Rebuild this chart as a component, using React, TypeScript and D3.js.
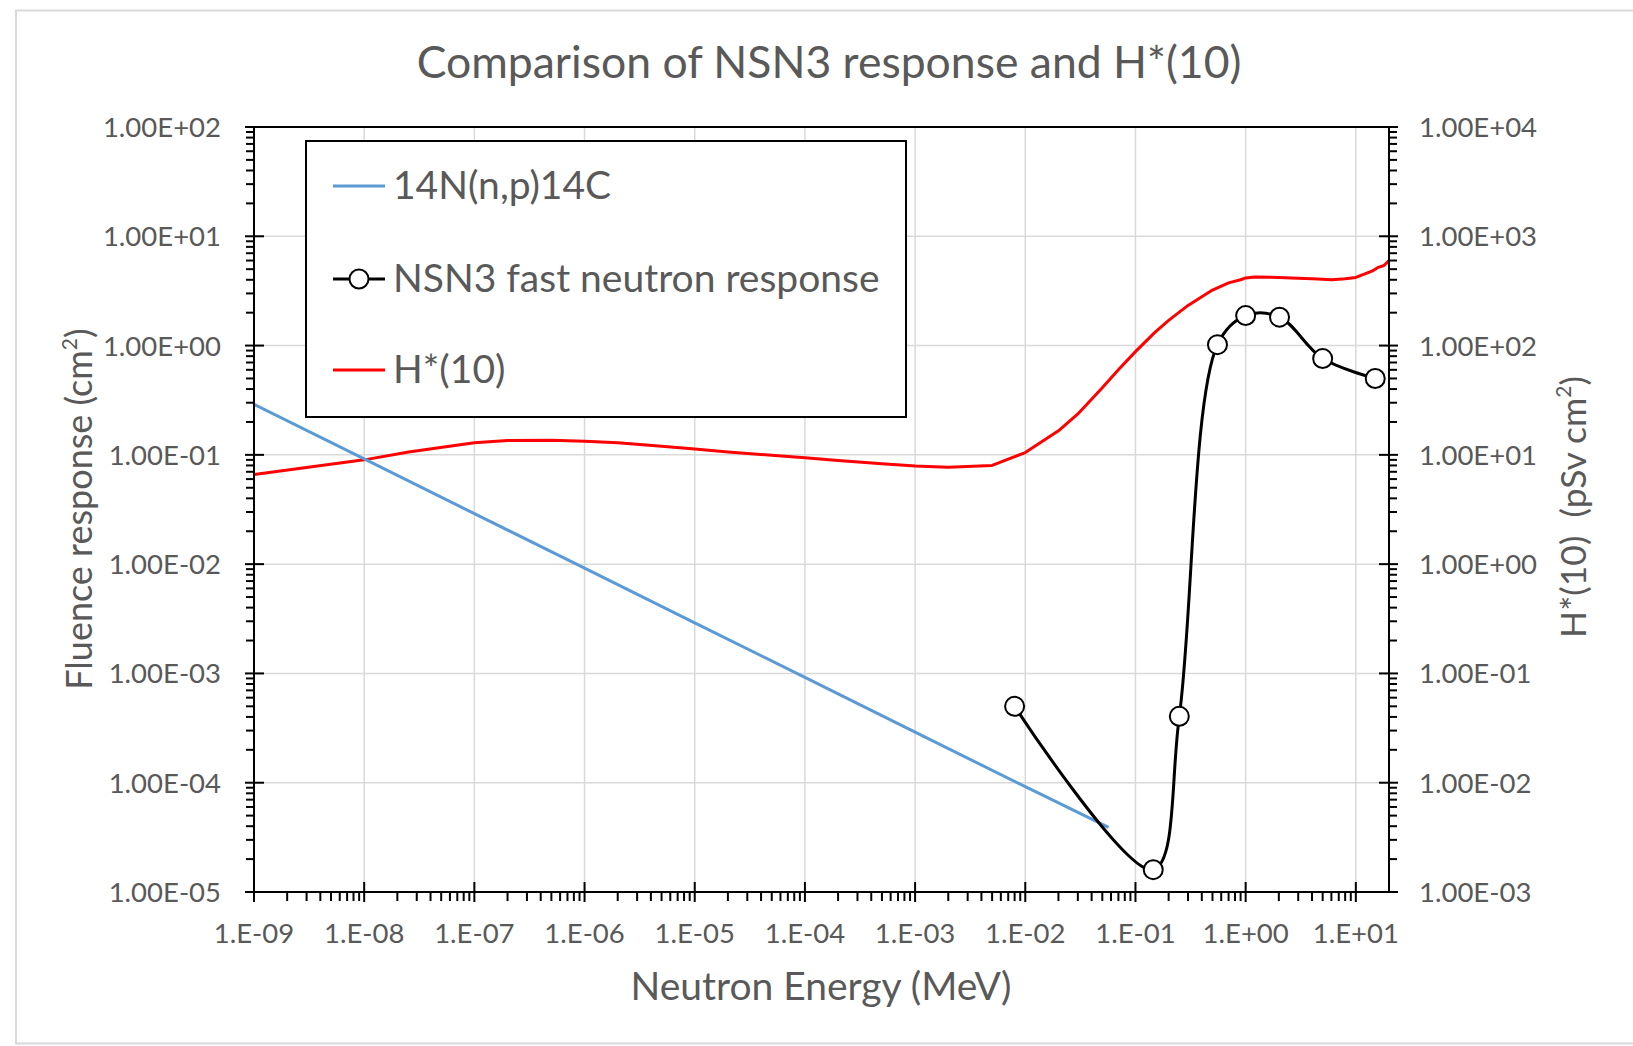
import React from 'react';
import * as d3 from 'd3';

// ---------- data ----------
const xTickValues = [1e-9, 1e-8, 1e-7, 1e-6, 1e-5, 1e-4, 1e-3, 1e-2, 1e-1, 1e0, 1e1];
const xTickLabels = ['1.E-09', '1.E-08', '1.E-07', '1.E-06', '1.E-05', '1.E-04', '1.E-03', '1.E-02', '1.E-01', '1.E+00', '1.E+01'];
const leftTickValues = [1e-5, 1e-4, 1e-3, 1e-2, 1e-1, 1e0, 1e1, 1e2];
const leftTickLabels = ['1.00E-05', '1.00E-04', '1.00E-03', '1.00E-02', '1.00E-01', '1.00E+00', '1.00E+01', '1.00E+02'];
const rightTickValues = [1e-3, 1e-2, 1e-1, 1e0, 1e1, 1e2, 1e3, 1e4];
const rightTickLabels = ['1.00E-03', '1.00E-02', '1.00E-01', '1.00E+00', '1.00E+01', '1.00E+02', '1.00E+03', '1.00E+04'];

// 14N(n,p)14C fluence response (cm^2), left axis
const npEnergy = [1e-9, 1e-8, 1e-7, 1e-6, 1e-5, 1e-4, 1e-3, 1e-2, 5.7e-2];
const npResponse = [0.29, 0.092, 0.029, 0.0092, 0.0029, 0.00092, 0.00029, 0.000092, 0.000039];

// NSN3 fast neutron response (cm^2), left axis
const nsnEnergy = [0.008, 0.145, 0.25, 0.555, 1.0, 2.03, 5.0, 15];
const nsnResponse = [5.0e-4, 1.6e-5, 4.05e-4, 1.02, 1.88, 1.82, 0.76, 0.5];

// H*(10) (pSv cm^2), right axis
const hEnergy = [1e-9, 1e-8, 2.53e-8, 1e-7, 2e-7, 5e-7, 1e-6, 2e-6, 5e-6, 1e-5, 2e-5, 5e-5, 1e-4, 2e-4, 5e-4, 1e-3, 2e-3, 5e-3, 1e-2, 2e-2, 3e-2, 5e-2, 7e-2, 1e-1, 1.5e-1, 2e-1, 3e-1, 5e-1, 7e-1, 9e-1, 1, 1.2, 2, 3, 4, 5, 6, 7, 8, 10, 14, 15, 16, 18, 20];
const hValue = [6.6, 9.0, 10.6, 12.9, 13.5, 13.6, 13.3, 12.9, 12.0, 11.3, 10.6, 9.9, 9.4, 8.9, 8.3, 7.9, 7.7, 8.0, 10.5, 16.6, 23.7, 41.1, 60.0, 88.0, 132, 170, 233, 322, 375, 400, 416, 425, 420, 412, 408, 405, 400, 405, 409, 420, 480, 500, 520, 540, 600];

const legendLabels = ['14N(n,p)14C', 'NSN3 fast neutron response', 'H*(10)'];
const seriesColors = ['#5B9BD5', '#000000', '#FF0000'];

// ---------- layout ----------
const W = 1633;
const H = 1046;
const L = 254, R = 1389, T = 127, B = 892;
const FONT = 'Lato, "Open Sans", sans-serif';
const TXT = '#595959';

export default function App() {
  const x = d3.scaleLog().domain([1e-9, 20]).range([L, R]);
  const yL = d3.scaleLog().domain([1e-5, 1e2]).range([B, T]);
  const yR = d3.scaleLog().domain([1e-3, 1e4]).range([B, T]);

  const minor = (lo: number, hi: number, domainMax: number) => {
    const out: number[] = [];
    for (let d = lo; d <= hi; d++) {
      for (let k = 2; k <= 9; k++) {
        const v = k * Math.pow(10, d);
        if (v < domainMax * 0.999) out.push(v);
      }
    }
    return out;
  };
  const xMinor = minor(-9, 1, 20);
  const yLMinor = minor(-5, 1, 1e2);
  const yRMinor = minor(-3, 3, 1e4);

  const straight = d3.line<[number, number]>().x(d => d[0]).y(d => d[1]);
  const smooth = d3.line<[number, number]>().x(d => d[0]).y(d => d[1]).curve(d3.curveCatmullRom.alpha(0.5));

  const npPts = npEnergy.map((e, i) => [x(e), yL(npResponse[i])] as [number, number]);
  const nsnPts = nsnEnergy.map((e, i) => [x(e), yL(nsnResponse[i])] as [number, number]);
  const hPts = hEnergy.map((e, i) => [x(e), yR(hValue[i])] as [number, number]);

  const legendX = 306, legendY = 141, legendW = 600, legendH = 276;
  const legendRows = [186, 279, 370];

  return (
    <div style={{ position: 'fixed', left: 0, top: 0, width: W, height: H, background: '#fff' }}>
      <svg width={W} height={H} style={{ display: 'block' }} fontFamily={FONT}>
        <rect x={0} y={0} width={W} height={H} fill="#fff" />
        <rect x={16} y={10.5} width={1700} height={1033} fill="none" stroke="#D9D9D9" strokeWidth={2} />

        {/* title */}
        <text x={829} y={78} textAnchor="middle" fontSize={44.5} fill={TXT}>Comparison of NSN3 response and H*(10)</text>

        {/* gridlines */}
        <g stroke="#D9D9D9" strokeWidth={1.5}>
          {xTickValues.slice(1).map((v, i) => (
            <line key={'gx' + i} x1={x(v)} x2={x(v)} y1={T} y2={B} />
          ))}
          {leftTickValues.slice(1, -1).map((v, i) => (
            <line key={'gy' + i} x1={L} x2={R} y1={yL(v)} y2={yL(v)} />
          ))}
        </g>

        {/* series */}
        <path d={straight(hPts) || ''} fill="none" stroke={seriesColors[2]} strokeWidth={3} strokeLinejoin="round" />
        <path d={straight(npPts) || ''} fill="none" stroke={seriesColors[0]} strokeWidth={3} strokeLinejoin="round" />
        <path d={smooth(nsnPts) || ''} fill="none" stroke={seriesColors[1]} strokeWidth={3} strokeLinejoin="round" />
        {nsnPts.map((p, i) => (
          <circle key={'m' + i} cx={p[0]} cy={p[1]} r={9.5} fill="#fff" stroke="#000" strokeWidth={2} />
        ))}

        {/* axes */}
        <g stroke="#000" strokeWidth={2}>
          <line x1={L} x2={R} y1={T} y2={T} />
          <line x1={L} x2={R} y1={B} y2={B} />
          <line x1={L} x2={L} y1={T} y2={B} />
          <line x1={R} x2={R} y1={T} y2={B} />
          {xTickValues.map((v, i) => (
            <line key={'xt' + i} x1={x(v)} x2={x(v)} y1={B - 10} y2={B + 10} />
          ))}
          {xMinor.map((v, i) => (
            <line key={'xm' + i} x1={x(v)} x2={x(v)} y1={B} y2={B + 9} />
          ))}
          {leftTickValues.map((v, i) => (
            <line key={'lt' + i} x1={L - 9} x2={L + 10} y1={yL(v)} y2={yL(v)} />
          ))}
          {yLMinor.map((v, i) => (
            <line key={'lm' + i} x1={L - 8} x2={L} y1={yL(v)} y2={yL(v)} />
          ))}
          {rightTickValues.map((v, i) => (
            <line key={'rt' + i} x1={R - 10} x2={R + 9} y1={yR(v)} y2={yR(v)} />
          ))}
          {yRMinor.map((v, i) => (
            <line key={'rm' + i} x1={R} x2={R + 8} y1={yR(v)} y2={yR(v)} />
          ))}
        </g>

        {/* tick labels */}
        <g fontSize={27.5} fill={TXT}>
          {xTickValues.map((v, i) => (
            <text key={'xl' + i} x={x(v)} y={943} textAnchor="middle">{xTickLabels[i]}</text>
          ))}
          {leftTickValues.map((v, i) => (
            <text key={'ll' + i} x={221} y={yL(v) + 10} textAnchor="end">{leftTickLabels[i]}</text>
          ))}
          {rightTickValues.map((v, i) => (
            <text key={'rl' + i} x={1419} y={yR(v) + 10} textAnchor="start">{rightTickLabels[i]}</text>
          ))}
        </g>

        {/* axis titles */}
        <text x={821} y={1000} textAnchor="middle" fontSize={39} fill={TXT}>Neutron Energy (MeV)</text>
        <text transform="translate(92,509) rotate(-90)" textAnchor="middle" fontSize={36} fill={TXT}>
          <tspan>Fluence response (cm</tspan>
          <tspan fontSize={21} dy={-15}>2</tspan>
          <tspan dy={15}>)</tspan>
        </text>
        <text transform="translate(1586,507) rotate(-90)" textAnchor="middle" fontSize={35.5} fill={TXT} style={{ whiteSpace: 'pre' }}>
          <tspan>{'H*(10)  (pSv cm'}</tspan>
          <tspan fontSize={21} dy={-15}>2</tspan>
          <tspan dy={15}>)</tspan>
        </text>

        {/* legend */}
        <rect x={legendX} y={legendY} width={legendW} height={legendH} fill="#fff" stroke="#000" strokeWidth={2} />
        {legendLabels.map((lab, i) => (
          <g key={'lg' + i}>
            <line x1={333} x2={385} y1={legendRows[i]} y2={legendRows[i]} stroke={seriesColors[i]} strokeWidth={3} />
            {i === 1 && <circle cx={359} cy={legendRows[i]} r={9.5} fill="#fff" stroke="#000" strokeWidth={2} />}
            <text x={393} y={legendRows[i] + 13} fontSize={39} fill={TXT}>{lab}</text>
          </g>
        ))}
      </svg>
    </div>
  );
}
